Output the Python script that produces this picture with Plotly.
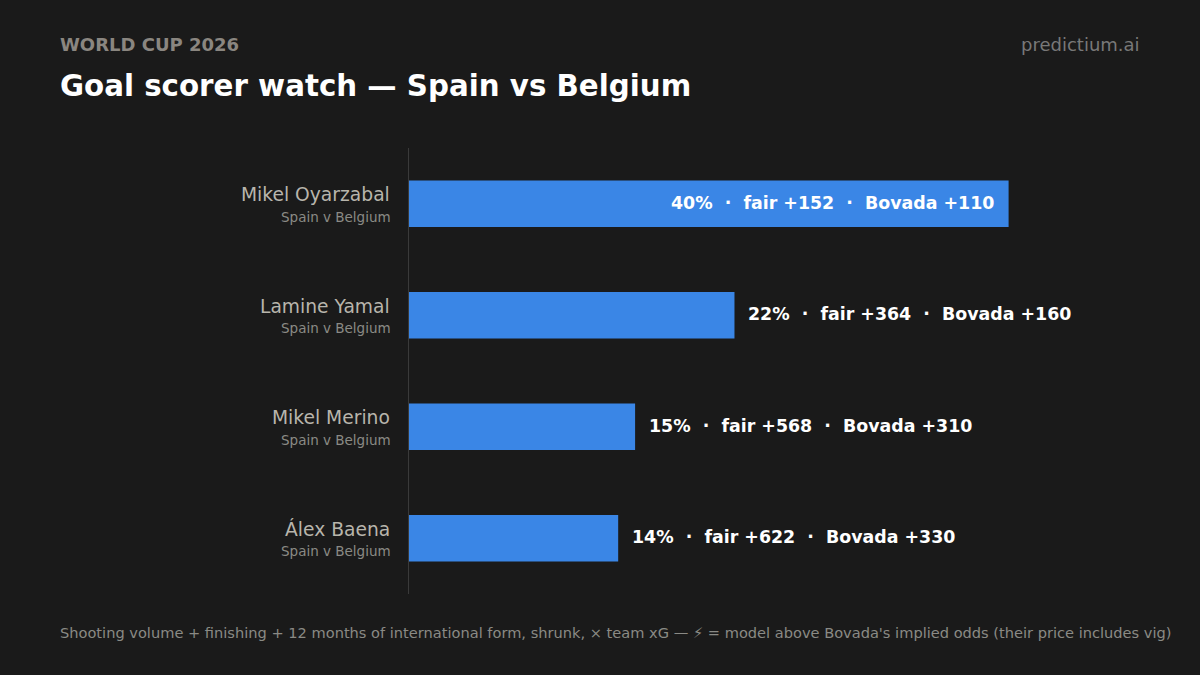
import plotly.graph_objects as go

# values
players = ['Mikel Oyarzabal', 'Lamine Yamal', 'Mikel Merino', 'Álex Baena']
fixtures = ['Spain v Belgium', 'Spain v Belgium', 'Spain v Belgium', 'Spain v Belgium']
probs = [39.7, 21.55, 14.97, 13.85]
pct_labels = ['40%', '22%', '15%', '14%']
fair_odds = ['+152', '+364', '+568', '+622']
bovada_odds = ['+110', '+160', '+310', '+330']

BG = '#1a1a1a'
BLUE = '#3a86e6'
FONT = 'DejaVu Sans'

fig = go.Figure()
fig.add_trace(go.Bar(x=probs, y=players, orientation='h', width=0.417,
                     marker=dict(color=BLUE, line=dict(width=0)),
                     hoverinfo='skip', showlegend=False))

annotations = []

# ----------------------- header and footer ----------------------- #
def paper_text(text, x, y, size, color, bold=False, xanchor='left'):
    # x, y in page pixels, y is the text middle
    label = '<b>' + text + '</b>' if bold else text
    annotations.append(dict(text=label, xref='paper', yref='paper',
                            x=(x - 409) / 731, y=(594 - y) / 446,
                            xanchor=xanchor, yanchor='middle', showarrow=False,
                            font=dict(family=FONT, size=size, color=color)))

paper_text('WORLD CUP 2026', 58, 44, 18, '#8a8680', bold=True)
paper_text('Goal scorer watch — Spain vs Belgium', 58, 85.5, 29.3, '#ffffff', bold=True)
paper_text('predictium.ai', 1142, 44, 18, '#787878', xanchor='right')
paper_text("Shooting volume + finishing + 12 months of international form, shrunk, × team xG — ⚡ = model above Bovada's implied odds (their price includes vig)",
           58, 632, 14.6, '#8a8a85')

# ----------------------- row labels ----------------------- #
for i in range(len(players)):
    annotations.append(dict(text=players[i], xref='paper', yref='y', x=0, y=players[i],
                            xanchor='right', yanchor='middle', xshift=-17, yshift=9,
                            showarrow=False, font=dict(family=FONT, size=18.7, color='#b8b5ac')))
    annotations.append(dict(text=fixtures[i], xref='paper', yref='y', x=0, y=players[i],
                            xanchor='right', yanchor='middle', xshift=-16, yshift=-13,
                            showarrow=False, font=dict(family=FONT, size=13.5, color='#8a8a85')))

    label = '<b>' + pct_labels[i] + '  ·  fair ' + fair_odds[i] + '  ·  Bovada ' + bovada_odds[i] + '</b>'
    inside = probs[i] > 30  # only the long bar holds its label
    annotations.append(dict(text=label, xref='x', yref='y', x=probs[i], y=players[i],
                            xanchor='right' if inside else 'left', yanchor='middle',
                            xshift=-13 if inside else 12, yshift=1,
                            showarrow=False, font=dict(family=FONT, size=17.4, color='#ffffff')))

fig.update_layout(
    width=1200, height=675,
    margin=dict(l=409, r=60, t=148, b=81),
    paper_bgcolor=BG, plot_bgcolor=BG,
    annotations=annotations,
    xaxis=dict(range=[0, 48.4], visible=False, fixedrange=True),
    yaxis=dict(categoryorder='array', categoryarray=players, autorange='reversed',
               showticklabels=False, ticks='', showgrid=False, zeroline=False,
               showline=True, linecolor='#3a3a3a', linewidth=1, fixedrange=True),
    bargap=0.58,
)

# page margin would push the figure off the frame
fig.write_html('out.html', config=dict(displayModeBar=False),
               post_script="document.body.style.margin='0';document.body.style.background='" + BG + "';")
